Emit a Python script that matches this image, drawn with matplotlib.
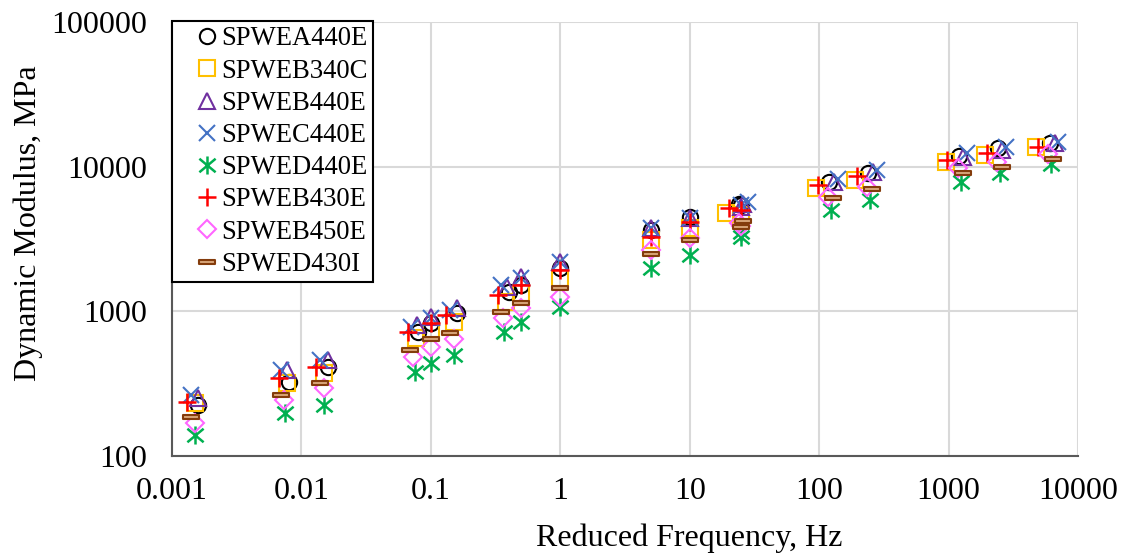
import numpy as np
import matplotlib
matplotlib.use("Agg")
import matplotlib.pyplot as plt
from matplotlib.path import Path
from matplotlib.ticker import FixedLocator, FixedFormatter, NullLocator

plt.rcParams['font.family'] = ['Liberation Serif', 'DejaVu Serif']

# Reduced frequency (Hz) and dynamic modulus (MPa)
# order per series: high temp (0.1..25 Hz), reference temp, low temp
f_A440E = [0.0016, 0.008, 0.016, 0.08, 0.16, 0.4, 0.1, 0.5, 1, 5, 10, 25, 24, 120, 240, 1200, 2400, 6100]
E_A440E = [225, 326, 414, 723, 973, 1366, 830, 1520, 1983, 3650, 4505, 5400, 5500, 7830, 9030, 11830, 13430, 14560]

f_B340C = [0.0015, 0.0077, 0.015, 0.077, 0.15, 0.38, 0.1, 0.5, 1, 5, 10, 25, 19, 95, 190, 950, 1900, 4750]
E_B340C = [232, 319, 375, 654, 848, 1165, 723, 1332, 1690, 3110, 3745, 4600, 4800, 7115, 8080, 10760, 12030, 13650]

f_B440E = [0.0016, 0.0078, 0.016, 0.078, 0.16, 0.39, 0.1, 0.5, 1, 5, 10, 25, 26, 130, 260, 1300, 2600, 6600]
E_B440E = [250, 393, 460, 804, 1054, 1479, 918, 1735, 2200, 3745, 4415, 5300, 5500, 7830, 9180, 11640, 13030, 14560]

f_C440E = [0.0014, 0.007, 0.014, 0.07, 0.14, 0.35, 0.1, 0.5, 1, 5, 10, 25, 28, 140, 280, 1400, 2800, 7000]
E_C440E = [263, 393, 461, 783, 1021, 1520, 900, 1690, 2200, 3745, 4415, 5400, 5700, 8210, 9480, 12400, 13650, 14790]

f_D440E = [0.0015, 0.0075, 0.015, 0.075, 0.15, 0.37, 0.1, 0.5, 1, 5, 10, 25, 25, 124, 248, 1250, 2480, 6200]
E_D440E = [140, 198, 225, 383, 499, 723, 439, 848, 1076, 2000, 2450, 3270, 3540, 5010, 5880, 7830, 9030, 10500]

f_B430E = [0.0013, 0.0067, 0.013, 0.067, 0.13, 0.33, 0.1, 0.5, 1, 5, 10, 25, 20, 98, 197, 980, 1970, 4900]
E_B430E = [236, 346, 414, 723, 943, 1297, 830, 1520, 1930, 3280, 4160, 5000, 5200, 7460, 8610, 11100, 12400, 13650]

f_B450E = [0.0015, 0.0073, 0.015, 0.073, 0.15, 0.36, 0.1, 0.5, 1, 5, 10, 25, 24, 118, 235, 1180, 2350, 5900]
E_B450E = [169, 244, 295, 485, 644, 895, 569, 1050, 1262, 2652, 3210, 3900, 4100, 6165, 7230, 9780, 10760, 12300]

f_D430I = [0.0014, 0.0069, 0.014, 0.069, 0.14, 0.35, 0.1, 0.5, 1, 5, 10, 25, 26, 129, 258, 1290, 2580, 6450]
E_D430I = [186, 264, 319, 540, 708, 994, 644, 1136, 1442, 2477, 3110, 3800, 4200, 6070, 7000, 9030, 9930, 11280]

names = ['SPWEA440E', 'SPWEB340C', 'SPWEB440E', 'SPWEC440E',
         'SPWED440E', 'SPWEB430E', 'SPWEB450E', 'SPWED430I']

x_ticks = [0.001, 0.01, 0.1, 1, 10, 100, 1000, 10000]
x_labels = ['0.001', '0.01', '0.1', '1', '10', '100', '1000', '10000']
y_ticks = [100, 1000, 10000, 100000]
y_labels = ['100', '1000', '10000', '100000']

# Excel-like star marker (x with vertical bar) and dash marker
star = Path([(0, -1), (0, 1), (-0.9, -0.75), (0.9, 0.75), (-0.9, 0.75), (0.9, -0.75)],
            [Path.MOVETO, Path.LINETO, Path.MOVETO, Path.LINETO, Path.MOVETO, Path.LINETO])
dash = Path([(-1, -0.3), (1, -0.3), (1, 0.3), (-1, 0.3), (-1, -0.3)],
            [Path.MOVETO, Path.LINETO, Path.LINETO, Path.LINETO, Path.CLOSEPOLY])

fig = plt.figure(figsize=(11.25, 5.57), dpi=100)
ax = fig.add_axes([0.1529, 0.1813, 0.8053, 0.7792])

ax.plot(f_A440E, E_A440E, ls='none', marker='o', ms=11, mfc='none', mec='black', mew=1.5, label=names[0])
ax.plot(f_B340C, E_B340C, ls='none', marker='s', ms=11, mfc='none', mec='#FFC000', mew=1.5, label=names[1])
ax.plot(f_B440E, E_B440E, ls='none', marker='^', ms=11, mfc='none', mec='#7030A0', mew=1.5, label=names[2])
ax.plot(f_C440E, E_C440E, ls='none', marker='x', ms=11, mfc='none', mec='#4472C4', mew=1.5, label=names[3])
ax.plot(f_D440E, E_D440E, ls='none', marker=star, ms=13, mfc='none', mec='#00B050', mew=1.8, label=names[4])
ax.plot(f_B430E, E_B430E, ls='none', marker='+', ms=13, mfc='none', mec='#FF0000', mew=1.8, label=names[5])
ax.plot(f_B450E, E_B450E, ls='none', marker='D', ms=9, mfc='none', mec='#FF66FF', mew=1.5, label=names[6])
ax.plot(f_D430I, E_D430I, ls='none', marker=dash, ms=11, mfc='#D9A679', mec='#843C0C', mew=1.5, label=names[7])

ax.set_xscale('log')
ax.set_yscale('log')
ax.set_xlim(0.001, 10000)
ax.set_ylim(100, 100000)
ax.xaxis.set_major_locator(FixedLocator(x_ticks))
ax.xaxis.set_major_formatter(FixedFormatter(x_labels))
ax.yaxis.set_major_locator(FixedLocator(y_ticks))
ax.yaxis.set_major_formatter(FixedFormatter(y_labels))
ax.xaxis.set_minor_locator(NullLocator())
ax.yaxis.set_minor_locator(NullLocator())
ax.tick_params(axis='both', length=0, labelsize=23, colors='black')
ax.tick_params(axis='y', pad=18)
ax.tick_params(axis='x', pad=15)

ax.grid(True, color='#D9D9D9', linewidth=1.5)
ax.set_axisbelow(True)
for side in ['top', 'right']:
    ax.spines[side].set_visible(False)
for side in ['left', 'bottom']:
    ax.spines[side].set_color('#595959')
    ax.spines[side].set_linewidth(1.5)

ax.set_xlabel('Reduced Frequency, Hz', fontsize=23)
ax.set_ylabel('Dynamic Modulus, MPa', fontsize=23)
ax.xaxis.set_label_coords(0.571, -0.155)
ax.yaxis.set_label_coords(-0.1425, 0.537)

leg = ax.legend(loc='upper left', bbox_to_anchor=(0.0, 1.002), borderaxespad=0,
                fontsize=19.2, frameon=True, fancybox=False, edgecolor='black',
                handlelength=2.25, handletextpad=-0.62, labelspacing=0.27,
                borderpad=0.2, framealpha=1)
leg.get_frame().set_linewidth(1.5)

fig.savefig('out.png', dpi=100)
